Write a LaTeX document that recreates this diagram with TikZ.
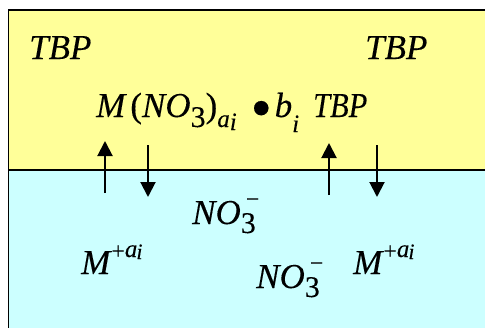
\documentclass[tikz,border=0pt]{standalone}
\usepackage{fontspec}
\setmainfont{Liberation Serif}[UprightFeatures={FakeBold=0.2},ItalicFeatures={FakeBold=0.2}]
\usetikzlibrary{arrows.meta}
\definecolor{orgph}{HTML}{FFFF99}
\definecolor{aqph}{HTML}{CCFFFF}
\newcommand\bigf{\fontsize{35}{35}\selectfont}
\newcommand\subf{\fontsize{30}{30}\selectfont}
\newcommand\ssubf{\fontsize{25}{25}\selectfont}
\newcommand\signf{\fontsize{24}{24}\selectfont}
\newcommand\ion{M\hspace{1pt}\raisebox{15pt}{\signf\upshape +}\hspace{0pt}\raisebox{17pt}{\ssubf a\hspace{-1pt}\raisebox{-2pt}{\fontsize{22}{22}\selectfont i}}}
\newcommand\nitrate{NO\makebox[0pt][l]{\raisebox{-9pt}{\subf\upshape 3}}\hspace{5pt}\raisebox{17pt}{\signf\upshape −}}
\begin{document}
\begin{tikzpicture}[x=1pt,y=-1pt,
  txt/.style={inner sep=0pt,anchor=base west,font=\bigf\itshape},
  flux/.style={line width=2pt,-{Triangle[width=15pt,length=15pt]}}]
\useasboundingbox (0,0) rectangle (485,327);
\fill[white] (0,0) rectangle (485,327);
\fill[orgph] (8.5,10) rectangle (495,170);
\fill[aqph] (8.5,170) rectangle (495,335);
\draw[line width=1.5pt] (495,10) -- (8.5,10) -- (8.5,335);
\draw[line width=2pt] (8.5,170) -- (495,170);
% arrows
\coordinate (u1s) at (105,193); \coordinate (u1e) at (105,141);
\coordinate (d1s) at (148,145); \coordinate (d1e) at (148,197);
\coordinate (u2s) at (329,195); \coordinate (u2e) at (329,143);
\coordinate (d2s) at (377,145); \coordinate (d2e) at (377,197);
\draw[flux] (u1s) -- (u1e);
\draw[flux] (d1s) -- (d1e);
\draw[flux] (u2s) -- (u2e);
\draw[flux] (d2s) -- (d2e);
% texts
\node[txt] (tbpL) at (29,59) {TBP};
\node[txt] (tbpR) at (365,59) {TBP};
\node[txt] (cplx) at (96,117) {M\hspace{5pt}{\upshape(}NO\raisebox{-10pt}{\subf\upshape 3}{\upshape)}\raisebox{-10pt}{\ssubf a\raisebox{-3pt}{i}}\hspace{14pt}\raisebox{-11pt}{\fontsize{60}{60}\selectfont\upshape\textbullet}\hspace{3pt}b\raisebox{-15pt}{\ssubf i}\hspace{14pt}\scalebox{0.87}[1]{TBP}};
\node[txt] (no3a) at (192,224) {\nitrate};
\node[txt] (no3b) at (256,288) {\nitrate};
\node[txt] (mL) at (81,274) {\ion};
\node[txt] (mR) at (353,274) {\ion};
\end{tikzpicture}
\end{document}
